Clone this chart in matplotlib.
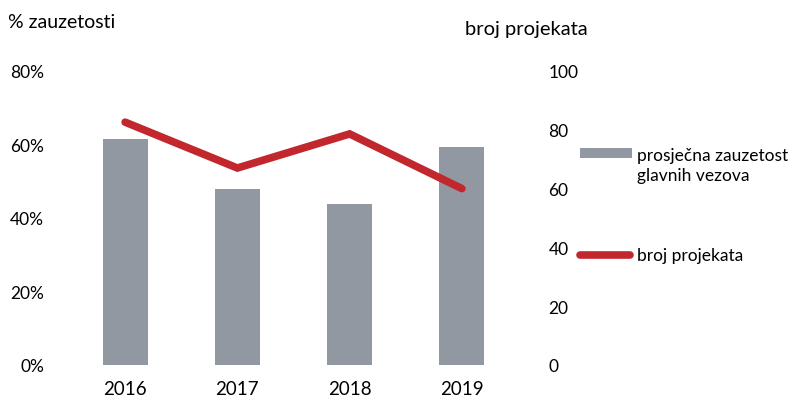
import matplotlib
matplotlib.use("Agg")
import matplotlib.pyplot as plt
from matplotlib.lines import Line2D
from matplotlib.patches import Rectangle

# data
years = ["2016", "2017", "2018", "2019"]
zauzetost = [61.5, 47.8, 43.8, 59.3]      # % zauzetosti (left axis)
projekti = [82.6, 67.0, 78.6, 60.0]       # broj projekata (right axis)
left_ticks = [0, 20, 40, 60, 80]
right_ticks = [0, 20, 40, 60, 80, 100]

bar_color = "#9198a1"
line_color = "#c1272d"

plt.rcParams["font.family"] = ["Lato", "DejaVu Sans"]
plt.rcParams["font.size"] = 12.5

W, H = 790, 402
fig = plt.figure(figsize=(W / 100, H / 100), dpi=100)
ax = fig.add_axes([69 / W, 36 / H, 449 / W, 294 / H])
ax2 = ax.twinx()

x = range(len(years))
ax.bar(x, zauzetost, width=0.4, color=bar_color, zorder=1)
ax2.plot(x, projekti, color=line_color, linewidth=5.5, solid_capstyle="round",
         solid_joinstyle="miter", zorder=3)

ax.set_xlim(-0.5, 3.5)
ax.set_ylim(0, 80)
ax2.set_ylim(0, 100)
ax.set_xticks(list(x))
ax.set_xticklabels(years, fontsize=13.5)
ax.set_yticks(left_ticks)
ax.set_yticklabels([f"{t}%" for t in left_ticks])
ax2.set_yticks(right_ticks)
ax2.set_yticklabels([str(t) for t in right_ticks])

for a in (ax, ax2):
    for s in a.spines.values():
        s.set_visible(False)
ax.tick_params(axis="x", length=0, pad=11)
ax.tick_params(axis="y", length=0, pad=18)
ax2.tick_params(axis="y", length=0, pad=22)
for lbl in ax2.get_yticklabels():
    lbl.set_horizontalalignment("left")

fig.text(8 / W, 1 - 22 / H, "% zauzetosti", va="center", ha="left", fontsize=14)
fig.text(465 / W, 1 - 30 / H, "broj projekata", va="center", ha="left", fontsize=14.5)

# legend drawn by hand to match the spacing of the original
fig.add_artist(Rectangle((580 / W, 1 - 159 / H), 52 / W, 10 / H,
                         transform=fig.transFigure, facecolor=bar_color, edgecolor="none"))
fig.text(637 / W, 1 - 166 / H, "prosječna zauzetost\nglavnih vezova", va="center",
         ha="left", fontsize=12.5, linespacing=1.32)
fig.add_artist(Line2D([580 / W, 630 / W], [1 - 256 / H, 1 - 256 / H], transform=fig.transFigure,
                      color=line_color, linewidth=5.5, solid_capstyle="round"))
fig.text(637 / W, 1 - 256 / H, "broj projekata", va="center", ha="left", fontsize=12.5)

fig.savefig("out.png", dpi=100)
